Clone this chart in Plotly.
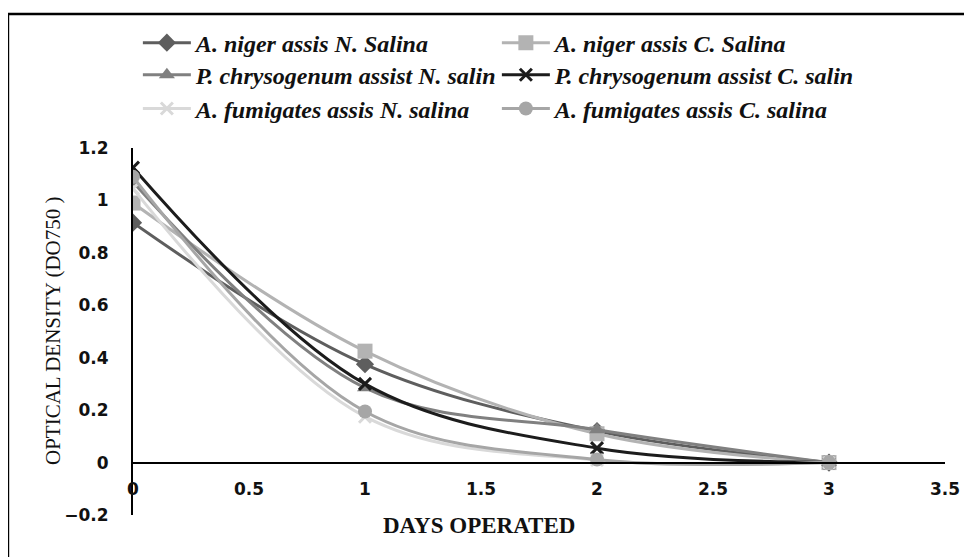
import plotly.graph_objects as go

days = [0, 1, 2, 3]
series_names = [
    "A. niger assis N. Salina",
    "A. niger assis C. Salina",
    "P. chrysogenum assist N. salin",
    "P. chrysogenum assist C. salin",
    "A. fumigates assis N. salina",
    "A. fumigates assis C. salina",
]
niger_n = [0.915, 0.375, 0.12, 0.0]
niger_c = [0.99, 0.425, 0.11, 0.0]
chryso_n = [1.07, 0.285, 0.125, 0.0]
chryso_c = [1.125, 0.30, 0.055, 0.0]
fumig_n = [1.045, 0.175, 0.01, 0.0]
fumig_c = [1.09, 0.195, 0.012, 0.0]
values = [niger_n, niger_c, chryso_n, chryso_c, fumig_n, fumig_c]

colors = ["#5e5e5e", "#b3b3b3", "#808080", "#1c1c1c", "#d9d9d9", "#a6a6a6"]
symbols = ["diamond", "square", "triangle-up", "x-thin", "x-thin", "circle"]
sizes = [14, 15, 14, 12, 12, 14]
legends = ["legend", "legend", "legend2", "legend2", "legend3", "legend3"]

fig = go.Figure()
for name, vals, c, s, sz, lg in zip(series_names, values, colors, symbols, sizes, legends):
    marker = dict(symbol=s, size=sz, color=c)
    if s == "x-thin":
        marker["line"] = dict(color=c, width=3)
    fig.add_trace(go.Scatter(
        x=days, y=vals, name=name, mode="lines+markers",
        line=dict(color=c, width=3, shape="spline", smoothing=1.0),
        marker=marker, legend=lg,
    ))

tickfont = dict(family="DejaVu Sans", size=17, color="#111111", weight="bold")
legfont = dict(family="Liberation Serif", size=24, color="#111111", weight="bold", style="italic")

def leg(y):
    return dict(orientation="h", x=0.006, xanchor="left", y=y, yanchor="middle",
                entrywidth=296, entrywidthmode="pixels", font=legfont,
                bgcolor="rgba(0,0,0,0)", itemwidth=48, traceorder="normal")

fig.update_layout(
    width=972, height=557,
    margin=dict(l=125, r=35, t=140, b=50, autoexpand=False),
    paper_bgcolor="white", plot_bgcolor="white",
    legend=leg(1.286), legend2=leg(1.1985), legend3=leg(1.1065),
    xaxis=dict(range=[0, 3.5], tickvals=[0, 0.5, 1, 1.5, 2, 2.5, 3, 3.5],
               showgrid=False, zeroline=False, showline=True, linecolor="black", linewidth=2,
               anchor="free", position=0.2 / 1.4, ticks="", tickfont=tickfont,
               ticklabelstandoff=11),
    yaxis=dict(range=[-0.2, 1.2], tickvals=[-0.2, 0, 0.2, 0.4, 0.6, 0.8, 1, 1.2],
               showgrid=False, zeroline=False, showline=True, linecolor="black", linewidth=2,
               ticks="", tickfont=tickfont, ticklabelstandoff=19),
    shapes=[dict(type="rect", xref="paper", yref="paper", x0=-0.154, x1=1.06, y0=-0.22, y1=1.365,
                 line=dict(color="black", width=2.5))],
    annotations=[
        dict(text="DAYS OPERATED", xref="paper", yref="paper", x=(479 - 133) / 812, y=(515 - 525) / 367,
             showarrow=False, xanchor="center", yanchor="middle",
             font=dict(family="Liberation Serif", size=23, color="#111111", weight="bold")),
        dict(text="OPTICAL DENSITY (DO750 )", xref="paper", yref="paper", x=(53 - 133) / 812,
             y=(515 - 331) / 367, showarrow=False, textangle=-90, xanchor="center", yanchor="middle",
             font=dict(family="Liberation Serif", size=21, color="#111111")),
    ],
)

fig.write_html("out.html")
